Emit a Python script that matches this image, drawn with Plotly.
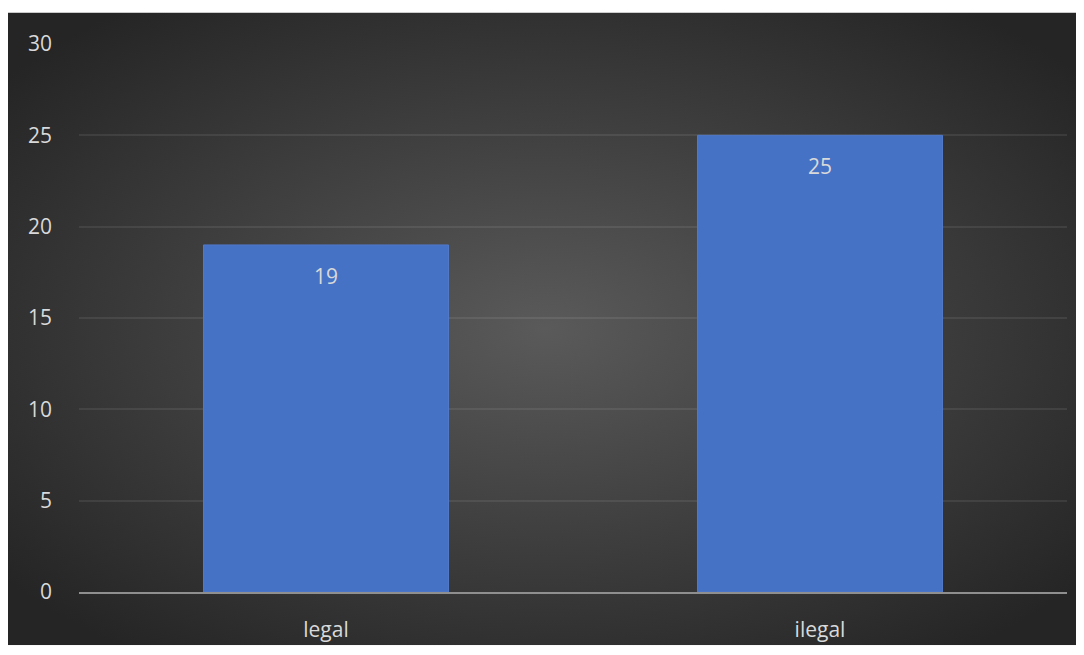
import base64
import plotly.graph_objects as go

categories = ["legal", "ilegal"]
values = [19, 25]
y_ticks = [0, 5, 10, 15, 20, 25, 30]

W, H = 1076, 647
L, R, T, B = 71, 17, 36, 54
pw, ph = W - L - R, H - T - B
TOP_WHITE = 4
BW, BH = W, H - TOP_WHITE

svg = (
    f"<svg xmlns='http://www.w3.org/2000/svg' width='{BW}' height='{BH}' viewBox='0 0 {BW} {BH}' preserveAspectRatio='none'>"
    "<defs><radialGradient id='g' cx='50%' cy='50%' r='64%'>"
    "<stop offset='0%' stop-color='#5a5a5a'/>"
    "<stop offset='100%' stop-color='#252525'/>"
    "</radialGradient></defs>"
    f"<rect width='{BW}' height='{BH}' fill='url(#g)'/></svg>"
)
src = "data:image/svg+xml;base64," + base64.b64encode(svg.encode()).decode()

FONT = "Open Sans, sans-serif"
TXT = "#d9d9d9"

fig = go.Figure()
fig.add_trace(go.Bar(
    x=categories, y=values,
    marker=dict(color="#4672c5", line=dict(width=1, color="#5079c8")),
    hoverinfo="skip",
))

for c, v in zip(categories, values):
    fig.add_annotation(
        x=c, y=v, text=str(v), showarrow=False, yanchor="middle",
        yshift=-31, font=dict(family=FONT, size=21, color=TXT),
    )

fig.update_layout(
    width=W, height=H,
    margin=dict(l=L, r=R, t=T, b=B, pad=0),
    paper_bgcolor="white",
    plot_bgcolor="rgba(0,0,0,0)",
    bargap=0.504,
    showlegend=False,
    font=dict(family=FONT, size=21, color=TXT),
    images=[dict(
        source=src, xref="paper", yref="paper",
        x=-L / pw, y=(H - B - TOP_WHITE) / ph,
        sizex=BW / pw, sizey=BH / ph,
        xanchor="left", yanchor="top", sizing="stretch", layer="below",
    )],
    xaxis=dict(
        showgrid=False, showline=True, linecolor="#8f8f8f", linewidth=2,
        ticks="", tickfont=dict(family=FONT, size=21, color=TXT),
        ticklabelstandoff=18,
    ),
    yaxis=dict(
        range=[0, 30], tickvals=y_ticks, showgrid=True,
        gridcolor="rgba(255,255,255,0.08)", gridwidth=2,
        zeroline=False, showline=False, ticks="",
        tickfont=dict(family=FONT, size=21, color=TXT), ticklabelstandoff=26,
    ),
)

fig.write_html("out.html", config={"displayModeBar": False})
